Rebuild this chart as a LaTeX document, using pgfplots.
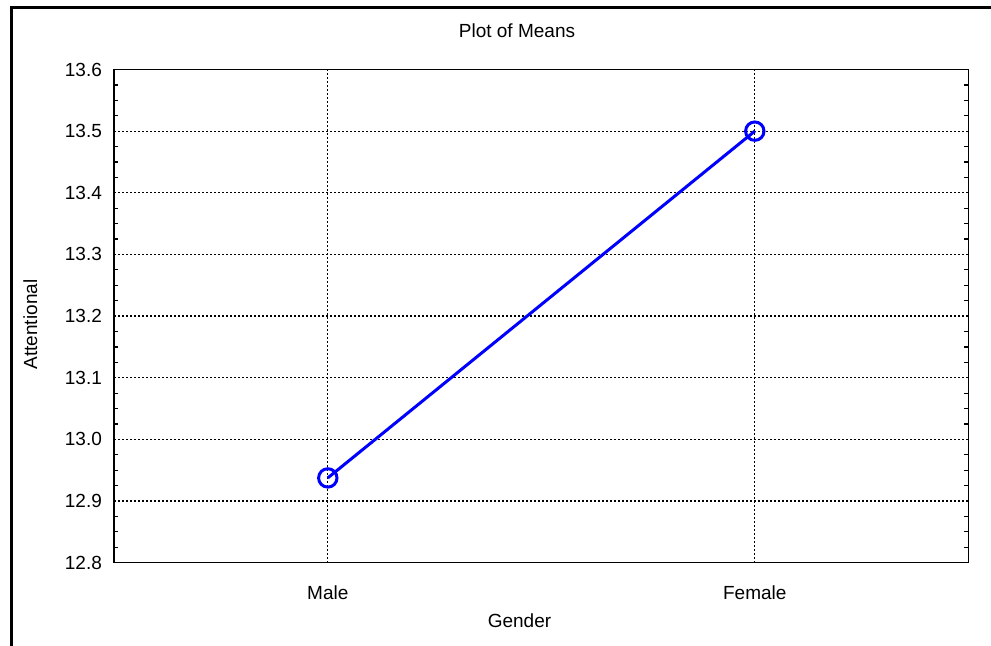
\documentclass[border=0pt]{standalone}
\usepackage{fontspec}
\setmainfont{Liberation Sans}
\usepackage{pgfplots}
\pgfplotsset{compat=1.18}
\begin{document}
\begin{tikzpicture}[x=1pt,y=1pt]
\useasboundingbox (0,0) rectangle (495.5,323);
\draw[line width=1.5pt] (5.75,-3) -- (5.75,319.25) -- (499,319.25);
\begin{axis}[
  at={(57.15pt,41.65pt)}, anchor=south west,
  scale only axis, width=427pt, height=246.6pt,
  xmin=-0.5, xmax=1.5, ymin=12.8, ymax=13.6,
  xtick={0,1}, xticklabels={Male,Female},
  ytick={12.8,12.9,13.0,13.1,13.2,13.3,13.4,13.5,13.6},
  yticklabels={12.8,12.9,13.0,13.1,13.2,13.3,13.4,13.5,13.6},
  minor y tick num=3,
  tick align=inside,
  xtick pos=bottom,
  grid=major,
  major grid style={black, line width=0.6pt, dash pattern=on 1pt off 1pt},
  axis line style={black, line width=0.8pt},
  tick style={black, line width=0.6pt},
  major tick length=0pt, minor tick length=2pt,
  ticklabel style={font=\fontsize{9.5}{11}\selectfont},
  xticklabel style={anchor=base, yshift=-18.6pt, inner sep=0pt},
  yticklabel style={anchor=east, xshift=-6pt, inner sep=0pt},
]
\addplot[blue, line width=1.5pt, mark=o, mark size=4.6pt,
  mark options={fill=white, line width=1.5pt}]
  coordinates {(0,12.9375) (1,13.5)};
\end{axis}
\node[anchor=base, inner sep=0pt, font=\fontsize{9.5}{11}\selectfont] at (258.5,304) {Plot of Means};
\node[anchor=base, inner sep=0pt, font=\fontsize{9.5}{11}\selectfont] at (259.75,9) {Gender};
\node[anchor=base, rotate=90, inner sep=0pt, font=\fontsize{9.5}{11}\selectfont] at (18.5,160.75) {Attentional};
\end{tikzpicture}
\end{document}
